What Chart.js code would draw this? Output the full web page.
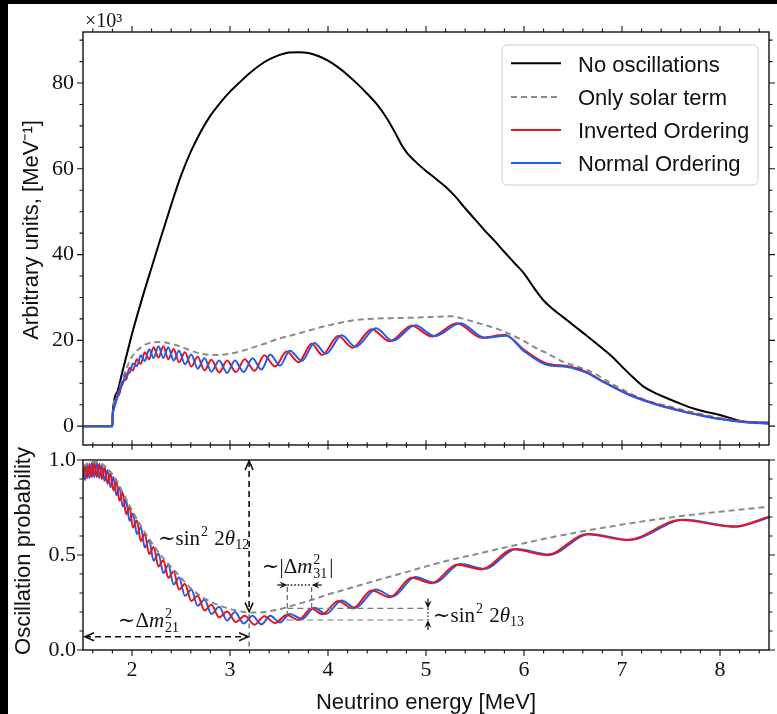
<!DOCTYPE html>
<html>
<head>
<meta charset="utf-8">
<title>Reactor neutrino spectrum and oscillation probability</title>
<script src="https://cdn.jsdelivr.net/npm/chart.js@4.4.1/dist/chart.umd.min.js"></script>
<style>
  html, body { margin:0; padding:0; background:#fff; }
  #page { position:relative; width:777px; height:714px; overflow:hidden; background:#fff; }
  .band { position:absolute; background:#000; }
  canvas { position:absolute; left:0; top:0; }
</style>
</head>
<body>
<div id="page">
  <div class="band" style="left:0;top:0;width:777px;height:4px"></div>
  <div class="band" style="left:0;top:0;width:8px;height:714px"></div>
  <canvas id="spectrum" width="777" height="714"></canvas>
  <canvas id="probability" width="777" height="714"></canvas>
</div>
<script>
// ------------------------------------------------------------------ data
const seriesLabels = ['No oscillations', 'Only solar term', 'Inverted Ordering', 'Normal Ordering'];
const xTickValues = [2, 3, 4, 5, 6, 7, 8];
const spectrumTickValues = [0, 20, 40, 60, 80];
const probabilityTickValues = [0, 0.5, 1.0];
const spectrumUnitLabel = '×10³';
const xTitle = 'Neutrino energy [MeV]';
const spectrumTitle = 'Arbitrary units, [MeV⁻¹]';
const probabilityTitle = 'Oscillation probability';

// top panel: [energy MeV, value ×10³]
const noOscillations = [[1.5,0],[1.8,0],[1.803,3],[1.85,8],[1.9,12.5],[1.95,17],[2.0,21.5],[2.1,29.5],[2.2,37],[2.3,44.4],[2.4,51.6],[2.5,58.4],[2.6,64],[2.7,68.6],[2.8,72.4],[2.9,75.4],[3.0,78.0],[3.1,80.2],[3.2,82.3],[3.3,84.1],[3.4,85.5],[3.5,86.5],[3.6,87.1],[3.7,87.2],[3.8,87.0],[3.9,86.3],[4.0,85.2],[4.1,83.7],[4.2,81.9],[4.3,79.8],[4.4,77.5],[4.5,75.0],[4.6,71.8],[4.7,67.8],[4.75,65.6],[4.8,63.9],[4.9,61.5],[5.0,59.5],[5.1,57.7],[5.2,55.8],[5.3,53.5],[5.4,50.8],[5.5,48.2],[5.6,45.6],[5.7,43.2],[5.8,40.6],[5.9,38.1],[6.0,35.6],[6.1,32.3],[6.2,29.3],[6.3,27.2],[6.44,24.7],[6.6,21.8],[6.78,18.5],[6.9,16.2],[7.02,13.4],[7.12,11.2],[7.22,9.2],[7.34,7.7],[7.46,6.5],[7.6,5.2],[7.73,4.1],[7.86,3.3],[8.0,2.6],[8.1,1.9],[8.21,1.2],[8.35,0.9],[8.5,0.8]];
const onlySolarSpectrum = [[1.5,0],[1.8,0],[1.803,2.8],[1.85,7.3],[1.9,10.8],[1.95,13.8],[2.0,16.2],[2.1,18.5],[2.2,19.5],[2.3,19.6],[2.4,19.2],[2.5,18.5],[2.6,17.6],[2.7,16.9],[2.8,16.6],[2.9,16.6],[3.0,16.9],[3.1,17.4],[3.2,18.1],[3.35,19.2],[3.5,20.4],[3.7,21.6],[3.9,22.9],[4.1,24.0],[4.3,24.8],[4.5,25.1],[4.7,25.2],[4.9,25.3],[5.1,25.5],[5.25,25.6],[5.4,24.9],[5.55,23.9],[5.7,22.9],[5.85,21.5],[6.0,19.8],[6.1,18.5],[6.25,16.8],[6.4,15.0],[6.5,14.2],[6.68,12.7],[6.95,9.2],[7.22,6.2],[7.46,4.7],[7.73,3.2],[8.0,1.9],[8.25,1.1],[8.5,0.6]];
const invertedSpectrum = [[1.5,0],[1.8,0],[1.803,2.5],[1.81,3.5],[1.84,6.3],[1.872,7.6],[1.905,10.4],[1.94,10.9],[1.975,13.6],[2.01,13.0],[2.05,15.6],[2.09,14.5],[2.13,17.2],[2.175,15.6],[2.22,18.4],[2.27,16.0],[2.32,18.6],[2.37,15.6],[2.425,18.0],[2.48,14.9],[2.54,17.2],[2.605,13.9],[2.67,16.2],[2.74,13.0],[2.81,15.5],[2.89,12.5],[2.97,15.3],[3.06,12.6],[3.15,15.6],[3.25,12.9],[3.35,16.5],[3.46,13.9],[3.577,17.4],[3.70,14.9],[3.833,19.2],[3.94,16.6],[4.105,21.0],[4.25,18.3],[4.446,22.6],[4.63,19.8],[4.854,23.4],[5.06,20.9],[5.314,24.0],[5.57,20.6],[5.8,21.3],[6.0,17.8],[6.23,14.6],[6.44,14.0],[6.64,12.6],[6.8,10.5],[7.05,7.6],[7.3,5.5],[7.6,3.6],[7.8,2.6],[8.0,1.7],[8.25,0.95],[8.5,0.6]];
const normalSpectrum = [[1.5,0],[1.8,0],[1.803,2.6],[1.81,3.7],[1.84,5.9],[1.872,8.5],[1.905,9.8],[1.94,12.2],[1.975,12.4],[2.01,14.6],[2.05,14.0],[2.09,16.5],[2.13,15.2],[2.175,17.9],[2.22,15.9],[2.27,18.6],[2.32,15.9],[2.37,18.4],[2.425,15.3],[2.48,17.6],[2.54,14.4],[2.605,16.7],[2.67,13.4],[2.74,15.8],[2.81,12.7],[2.89,15.3],[2.97,12.4],[3.05,15.3],[3.14,12.6],[3.23,15.8],[3.32,13.2],[3.41,16.7],[3.51,14.1],[3.61,17.6],[3.735,15.2],[3.86,19.4],[3.98,16.9],[4.14,21.2],[4.28,18.5],[4.49,22.8],[4.66,19.9],[4.89,23.5],[5.09,21.0],[5.35,24.0],[5.6,20.6],[5.82,21.1],[6.0,17.5],[6.23,14.3],[6.44,13.8],[6.64,12.4],[6.8,10.4],[7.05,7.5],[7.3,5.4],[7.6,3.5],[7.8,2.5],[8.0,1.65],[8.25,0.9],[8.5,0.55]];

// bottom panel: [energy MeV, probability]
const onlySolarProb = [[1.5,0.965],[1.55,0.983],[1.6,0.99],[1.65,0.99],[1.7,0.977],[1.75,0.955],[1.8,0.925],[1.85,0.885],[1.9,0.835],[1.95,0.785],[2.0,0.735],[2.1,0.645],[2.2,0.565],[2.3,0.495],[2.4,0.437],[2.5,0.38],[2.6,0.325],[2.7,0.285],[2.8,0.255],[2.9,0.233],[3.0,0.216],[3.1,0.204],[3.2,0.197],[3.3,0.198],[3.4,0.204],[3.5,0.214],[3.6,0.228],[3.7,0.243],[3.8,0.258],[3.9,0.275],[4.0,0.292],[4.2,0.322],[4.4,0.352],[4.6,0.382],[4.8,0.41],[5.0,0.44],[5.25,0.474],[5.5,0.503],[5.75,0.533],[6.0,0.562],[6.25,0.59],[6.5,0.615],[6.75,0.638],[7.0,0.66],[7.25,0.68],[7.5,0.698],[7.75,0.714],[8.0,0.728],[8.25,0.741],[8.5,0.754]];
const invertedProb = [[1.5,0.90],[1.522,0.97],[1.545,0.905],[1.567,0.98],[1.59,0.91],[1.615,0.985],[1.64,0.91],[1.666,0.98],[1.693,0.90],[1.72,0.962],[1.75,0.875],[1.78,0.93],[1.81,0.84],[1.84,0.888],[1.872,0.785],[1.905,0.828],[1.94,0.715],[1.975,0.752],[2.01,0.645],[2.05,0.682],[2.09,0.573],[2.13,0.612],[2.175,0.505],[2.22,0.542],[2.27,0.44],[2.32,0.473],[2.37,0.38],[2.425,0.413],[2.48,0.318],[2.54,0.347],[2.605,0.258],[2.67,0.285],[2.74,0.208],[2.81,0.238],[2.89,0.172],[2.97,0.203],[3.06,0.148],[3.15,0.18],[3.25,0.133],[3.35,0.178],[3.46,0.142],[3.577,0.184],[3.70,0.158],[3.833,0.219],[3.94,0.188],[4.105,0.258],[4.25,0.218],[4.446,0.313],[4.63,0.278],[4.854,0.38],[5.06,0.352],[5.314,0.449],[5.57,0.425],[5.89,0.53],[6.23,0.50],[6.64,0.609],[7.05,0.579],[7.6,0.684],[8.14,0.649],[8.5,0.702]];
const normalProb = [[1.5,0.96],[1.522,0.895],[1.545,0.975],[1.567,0.905],[1.59,0.985],[1.615,0.91],[1.64,0.985],[1.666,0.905],[1.693,0.972],[1.72,0.89],[1.75,0.948],[1.78,0.857],[1.81,0.91],[1.84,0.815],[1.872,0.858],[1.905,0.755],[1.94,0.788],[1.975,0.68],[2.01,0.718],[2.05,0.61],[2.09,0.646],[2.13,0.54],[2.175,0.578],[2.22,0.47],[2.27,0.508],[2.32,0.405],[2.37,0.447],[2.425,0.345],[2.48,0.382],[2.54,0.285],[2.605,0.318],[2.67,0.233],[2.74,0.266],[2.81,0.19],[2.89,0.228],[2.97,0.155],[3.05,0.2],[3.14,0.14],[3.23,0.18],[3.32,0.135],[3.41,0.18],[3.51,0.145],[3.61,0.19],[3.735,0.163],[3.86,0.222],[3.98,0.19],[4.14,0.26],[4.28,0.222],[4.49,0.318],[4.66,0.282],[4.89,0.384],[5.09,0.354],[5.35,0.452],[5.6,0.427],[5.92,0.532],[6.26,0.502],[6.67,0.611],[7.08,0.58],[7.63,0.685],[8.17,0.65],[8.5,0.698]];

// annotation anchors (data coordinates of the bottom panel)
const theta12Arrow = { energy: 3.195, from: 1.0, to: 0.197 };
const dm21Arrow = { prob: 0.07, from: 1.5, to: 3.195 };
const dm31Marks = { prob: 0.342, left: 3.585, right: 3.833, high: 0.219, low: 0.158 };
const theta13Mark = { energy: 5.02, high: 0.219, low: 0.158 };
const annotationLabels = [
  { energy: 2.265, prob: 0.553, parts: [['∼','r'],['sin','r'],['2','sup'],[' 2','r'],['θ','i'],['12','sub']] },
  { energy: 1.855, prob: 0.123, parts: [['∼','r'],['Δ','r'],['m','i'],['2','sup'],['21','subS']] },
  { energy: 3.325, prob: 0.407, parts: [['∼','r'],['|','r'],['Δ','r'],['m','i'],['2','sup'],['31','subS'],['|','r']] },
  { energy: 5.07,  prob: 0.146, parts: [['∼','r'],['sin','r'],['2','sup'],[' 2','r'],['θ','i'],['13','sub']] }
];

// ------------------------------------------------------------------ styles
const SERIF = '"Liberation Serif", "DejaVu Serif", serif';
const SANS = '"Liberation Sans", Arial, sans-serif';
const RED = '#e8141c', BLUE = '#1f5ded', GRAY = '#8a8a8a', INK = '#111';
const X_MIN = 1.5, X_MAX = 8.5;
const pts = arr => arr.map(([x, y]) => ({ x, y }));

function lineDs(label, data, color, width, dash, order) {
  return { label, data: pts(data), borderColor: color, backgroundColor: color, borderWidth: width,
    borderDash: dash || [], pointRadius: 0, pointHoverRadius: 0, fill: false,
    cubicInterpolationMode: 'monotone', order };
}

const xMinor = [];
for (let k = 8; k <= 42; k++) if (k % 5) xMinor.push(k / 5);
const spectrumMinor = [];
for (let v = 5; v <= 90; v += 5) if (v % 20) spectrumMinor.push(v);
const probMinor = [];
for (let k = 1; k <= 9; k++) if (k !== 5) probMinor.push(k / 10);

function framePlugin(cfg) {
  return {
    id: 'frame',
    afterDatasetsDraw(chart) {
      const { ctx, chartArea: a } = chart;
      const xs = chart.scales.x, ys = chart.scales.y;
      ctx.save();
      ctx.strokeStyle = INK;
      ctx.lineWidth = 1.4;
      ctx.strokeRect(a.left, a.top, a.right - a.left, a.bottom - a.top);
      ctx.lineWidth = 1.1;
      ctx.beginPath();
      const MAJ = 6, MIN = 3.5;
      cfg.xEdges.forEach(([edge, mode]) => {
        const y0 = edge === 'top' ? a.top : a.bottom;
        const out = edge === 'top' ? -1 : 1;
        const mark = (v, len) => {
          const px = xs.getPixelForValue(v);
          if (mode === 'inout') { ctx.moveTo(px, y0 - len * 0.8); ctx.lineTo(px, y0 + len * 0.8); }
          else { ctx.moveTo(px, y0); ctx.lineTo(px, y0 + out * len); }
        };
        xTickValues.forEach(v => mark(v, MAJ));
        xMinor.forEach(v => mark(v, MIN));
      });
      cfg.yEdges.forEach(edge => {
        const x0 = edge === 'left' ? a.left : a.right;
        const out = edge === 'left' ? -1 : 1;
        const mark = (v, len) => {
          const py = ys.getPixelForValue(v);
          if (py < a.top - 0.5 || py > a.bottom + 0.5) return;
          ctx.moveTo(x0, py); ctx.lineTo(x0 + out * len, py);
        };
        cfg.yMajor.forEach(v => mark(v, MAJ));
        cfg.yMinor.forEach(v => mark(v, MIN));
      });
      ctx.stroke();
      ctx.restore();
    }
  };
}

const spectrumDecor = {
  id: 'spectrumDecor',
  afterDraw(chart) {
    const { ctx, chartArea: a } = chart;
    ctx.save();
    ctx.fillStyle = INK;
    ctx.font = '20px ' + SERIF;
    ctx.textBaseline = 'alphabetic';
    ctx.textAlign = 'left';
    ctx.fillText(spectrumUnitLabel, a.left + 2, 27);
    ctx.save();
    ctx.translate(38, 230);
    ctx.rotate(-Math.PI / 2);
    ctx.font = '22px ' + SANS;
    ctx.textAlign = 'center';
    ctx.fillText(spectrumTitle, 0, 0);
    ctx.restore();
    // legend
    const bx = 502, by = 45, bw = 256, bh = 140, r = 5;
    ctx.beginPath();
    ctx.moveTo(bx + r, by); ctx.lineTo(bx + bw - r, by); ctx.arcTo(bx + bw, by, bx + bw, by + r, r);
    ctx.lineTo(bx + bw, by + bh - r); ctx.arcTo(bx + bw, by + bh, bx + bw - r, by + bh, r);
    ctx.lineTo(bx + r, by + bh); ctx.arcTo(bx, by + bh, bx, by + bh - r, r);
    ctx.lineTo(bx, by + r); ctx.arcTo(bx, by, bx + r, by, r);
    ctx.closePath();
    ctx.fillStyle = 'rgba(255,255,255,0.85)';
    ctx.fill();
    ctx.strokeStyle = '#cccccc';
    ctx.lineWidth = 1;
    ctx.stroke();
    const rows = [63.3, 97, 130, 163];
    seriesLabels.forEach((label, i) => {
      const ds = chart.data.datasets.find(d => d.label === label);
      ctx.beginPath();
      ctx.setLineDash(ds.borderDash || []);
      ctx.strokeStyle = ds.borderColor;
      ctx.lineWidth = ds.borderWidth;
      ctx.moveTo(511, rows[i]); ctx.lineTo(561, rows[i]);
      ctx.stroke();
      ctx.setLineDash([]);
      ctx.fillStyle = INK;
      ctx.font = '22px ' + SANS;
      ctx.textAlign = 'left';
      ctx.textBaseline = 'alphabetic';
      ctx.fillText(ds.label, 578, rows[i] + 8.4);
    });
    ctx.restore();
  }
};

function drawParts(ctx, x, y, parts) {
  const R = '21px ' + SERIF, I = 'italic 21px ' + SERIF, S = '14px ' + SERIF;
  let cx = x, lastStart = x;
  parts.forEach(([t, k]) => {
    if (k === 'r' || k === 'i') {
      ctx.font = k === 'r' ? R : I;
      ctx.fillText(t, cx, y);
      lastStart = cx; cx += ctx.measureText(t).width;
    } else if (k === 'sup') {
      ctx.font = S;
      ctx.fillText(t, cx + 1, y - 9);
      lastStart = cx + 1; cx += ctx.measureText(t).width + 2;
    } else if (k === 'sub') {
      ctx.font = S;
      ctx.fillText(t, cx, y + 4);
      lastStart = cx; cx += ctx.measureText(t).width + 1;
    } else if (k === 'subS') {
      ctx.font = S;
      ctx.fillText(t, lastStart, y + 5);
      cx = Math.max(cx, lastStart + ctx.measureText(t).width + 2);
    }
  });
}

function openHead(ctx, tx, ty, dx, dy, len, half) {
  const nx = -dy, ny = dx;
  ctx.beginPath();
  ctx.moveTo(tx - dx * len + nx * half, ty - dy * len + ny * half);
  ctx.lineTo(tx, ty);
  ctx.lineTo(tx - dx * len - nx * half, ty - dy * len - ny * half);
  ctx.stroke();
}
function filledHead(ctx, tx, ty, dx, dy, len, half) {
  const nx = -dy, ny = dx;
  ctx.beginPath();
  ctx.moveTo(tx, ty);
  ctx.lineTo(tx - dx * len + nx * half, ty - dy * len + ny * half);
  ctx.lineTo(tx - dx * len * 0.6, ty - dy * len * 0.6);
  ctx.lineTo(tx - dx * len - nx * half, ty - dy * len - ny * half);
  ctx.closePath();
  ctx.fill();
}
function seg(ctx, x1, y1, x2, y2, color, width, dash) {
  ctx.beginPath();
  ctx.setLineDash(dash);
  ctx.strokeStyle = color;
  ctx.lineWidth = width;
  ctx.moveTo(x1, y1); ctx.lineTo(x2, y2);
  ctx.stroke();
  ctx.setLineDash([]);
}

const probabilityDecor = {
  id: 'probabilityDecor',
  afterDraw(chart) {
    const { ctx, chartArea: a } = chart;
    const X = v => chart.scales.x.getPixelForValue(v);
    const Y = v => chart.scales.y.getPixelForValue(v);
    ctx.save();
    ctx.fillStyle = INK;
    ctx.font = '22px ' + SANS;
    ctx.textAlign = 'center';
    ctx.textBaseline = 'alphabetic';
    ctx.fillText(xTitle, (a.left + a.right) / 2, 709);
    ctx.save();
    ctx.translate(30, 551);
    ctx.rotate(-Math.PI / 2);
    ctx.fillText(probabilityTitle, 0, 0);
    ctx.restore();

    const D = [6, 4];
    const ex = X(theta12Arrow.energy);
    seg(ctx, ex, Y(theta12Arrow.from) + 1, ex, Y(theta12Arrow.to) - 1, INK, 1.6, D);
    seg(ctx, ex, Y(theta12Arrow.to) + 2, ex, a.bottom, '#555', 1.2, [5, 4]);
    ctx.strokeStyle = INK; ctx.lineWidth = 1.6;
    openHead(ctx, ex, Y(theta12Arrow.from) + 1, 0, -1, 9, 4);
    openHead(ctx, ex, Y(theta12Arrow.to) - 1, 0, 1, 9, 4);
    const hy = Y(dm21Arrow.prob);
    seg(ctx, X(dm21Arrow.from) + 2, hy, X(dm21Arrow.to) - 1, hy, INK, 1.6, D);
    ctx.strokeStyle = INK; ctx.lineWidth = 1.6;
    openHead(ctx, X(dm21Arrow.from) + 2, hy, -1, 0, 9, 4);
    openHead(ctx, X(dm21Arrow.to) - 1, hy, 1, 0, 9, 4);
    const ly = Y(dm31Marks.prob), lx = X(dm31Marks.left), rx = X(dm31Marks.right);
    seg(ctx, lx, ly + 2, lx, Y(dm31Marks.low), '#666', 1.2, [5, 3]);
    seg(ctx, rx, ly + 2, rx, Y(dm31Marks.high), '#666', 1.2, [5, 3]);
    seg(ctx, lx, Y(dm31Marks.high), X(theta13Mark.energy), Y(dm31Marks.high), '#777', 1.2, [6, 4]);
    seg(ctx, lx, Y(dm31Marks.low), X(theta13Mark.energy), Y(dm31Marks.low), '#777', 1.2, [6, 4]);
    seg(ctx, lx, ly, rx, ly, INK, 1.3, [1.5, 2]);
    seg(ctx, lx - 10, ly, lx - 4, ly, INK, 1.3, []);
    seg(ctx, rx + 10, ly, rx + 4, ly, INK, 1.3, []);
    ctx.fillStyle = INK;
    filledHead(ctx, lx, ly, 1, 0, 8, 3.5);
    filledHead(ctx, rx, ly, -1, 0, 8, 3.5);
    const tx = X(theta13Mark.energy), th = Y(theta13Mark.high), tl = Y(theta13Mark.low);
    seg(ctx, tx, th, tx, tl, INK, 1.2, [1.5, 2]);
    seg(ctx, tx, th - 10, tx, th - 4, INK, 1.2, []);
    seg(ctx, tx, tl + 10, tx, tl + 4, INK, 1.2, []);
    filledHead(ctx, tx, th, 0, 1, 8, 3.5);
    filledHead(ctx, tx, tl, 0, -1, 8, 3.5);
    ctx.fillStyle = INK;
    ctx.textAlign = 'left';
    ctx.textBaseline = 'alphabetic';
    annotationLabels.forEach(l => drawParts(ctx, X(l.energy), Y(l.prob), l.parts));
    ctx.restore();
  }
};

Chart.defaults.font.family = SERIF;
Chart.defaults.color = INK;

const baseX = (showLabels, height) => ({
  type: 'linear', min: X_MIN, max: X_MAX,
  afterFit(s) { s.height = height; },
  afterBuildTicks(s) { s.ticks = xTickValues.map(v => ({ value: v })); },
  ticks: { display: showLabels, autoSkip: false, maxRotation: 0, padding: 7, color: INK,
           font: { family: SERIF, size: 22 }, callback: v => String(v) },
  grid: { display: false, drawTicks: false },
  border: { display: false }
});

// top panel: blue drawn uppermost, then red, gray dashed, black
new Chart(document.getElementById('spectrum'), {
  type: 'line',
  data: {
    datasets: [
      lineDs(seriesLabels[0], noOscillations, '#000000', 2, [], 3),
      lineDs(seriesLabels[1], onlySolarSpectrum, GRAY, 2, [6, 4], 2),
      lineDs(seriesLabels[2], invertedSpectrum, RED, 2, [], 1),
      lineDs(seriesLabels[3], normalSpectrum, BLUE, 2, [], 0)
    ]
  },
  options: {
    responsive: false, animation: false, devicePixelRatio: 1,
    layout: { padding: { left: 0, right: 8, top: 32, bottom: 0 } },
    plugins: { legend: { display: false }, tooltip: { enabled: false } },
    events: [],
    scales: {
      x: baseX(false, 714 - 445),
      y: {
        type: 'linear', min: -4.4, max: 91.9,
        afterFit(s) { s.width = 83; },
        afterBuildTicks(s) { s.ticks = spectrumTickValues.map(v => ({ value: v })); },
        ticks: { padding: 9, color: INK, font: { family: SERIF, size: 22 }, callback: v => String(v) },
        grid: { display: false, drawTicks: false },
        border: { display: false }
      }
    }
  },
  plugins: [framePlugin({ xEdges: [['top', 'out'], ['bottom', 'inout']], yEdges: ['left', 'right'],
                          yMajor: spectrumTickValues, yMinor: spectrumMinor }), spectrumDecor]
});

new Chart(document.getElementById('probability'), {
  type: 'line',
  data: {
    datasets: [
      lineDs(seriesLabels[1], onlySolarProb, GRAY, 2, [6, 4], 0),
      lineDs(seriesLabels[2], invertedProb, RED, 2, [], 1),
      lineDs(seriesLabels[3], normalProb, BLUE, 2, [], 2)
    ]
  },
  options: {
    responsive: false, animation: false, devicePixelRatio: 1,
    layout: { padding: { left: 0, right: 8, top: 460, bottom: 0 } },
    plugins: { legend: { display: false }, tooltip: { enabled: false } },
    events: [],
    scales: {
      x: baseX(true, 714 - 650),
      y: {
        type: 'linear', min: 0, max: 1,
        afterFit(s) { s.width = 83; },
        afterBuildTicks(s) { s.ticks = probabilityTickValues.map(v => ({ value: v })); },
        ticks: { padding: 7, color: INK, font: { family: SERIF, size: 22 }, callback: v => Number(v).toFixed(1) },
        grid: { display: false, drawTicks: false },
        border: { display: false }
      }
    }
  },
  plugins: [framePlugin({ xEdges: [['bottom', 'out']], yEdges: ['left', 'right'],
                          yMajor: probabilityTickValues, yMinor: probMinor }), probabilityDecor]
});
</script>
</body>
</html>
